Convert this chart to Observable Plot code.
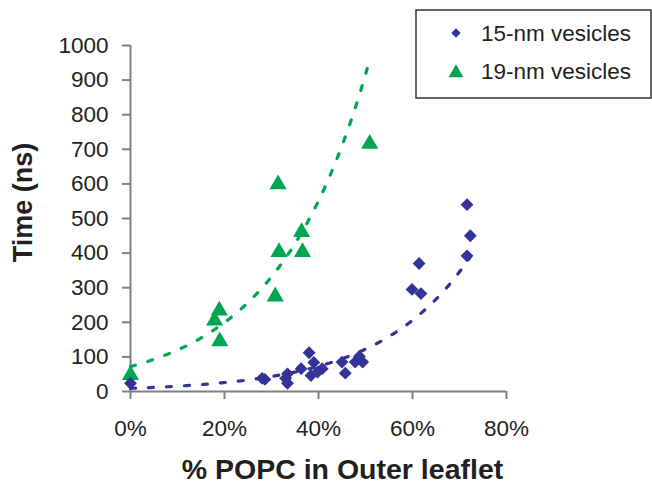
<!DOCTYPE html>
<html>
<head>
<meta charset="utf-8">
<script src="https://cdn.jsdelivr.net/npm/d3@7"></script>
<script src="https://cdn.jsdelivr.net/npm/@observablehq/plot@0.6"></script>
<style>
  html, body { margin: 0; padding: 0; background: #fff; }
  #chart { position: relative; width: 652px; height: 487px; }
</style>
</head>
<body>
<div id="chart"></div>
<script>
// ---- data ----
const seriesNames = ["15-nm vesicles", "19-nm vesicles"];

// 15-nm vesicles: % POPC in outer leaflet
const popc15 = [0, 28.0, 28.6, 33.4, 33.0, 33.4, 36.3, 38.0, 39.0, 38.4, 40.8, 39.8,
                45.0, 45.7, 47.8, 48.7, 49.4, 59.9, 61.4, 61.8, 71.6, 72.3, 71.6];
// 15-nm vesicles: time (ns)
const time15  = [24, 38, 35, 51, 38, 24, 66, 112, 84, 46, 66, 56,
                 85, 53, 85, 101, 85, 295, 370, 283, 540, 450, 392];

// 19-nm vesicles
const popc19 = [0, 17.9, 18.9, 19.0, 30.8, 31.4, 31.6, 36.4, 36.6, 50.9];
const time19 = [55, 212, 241, 152, 282, 606, 410, 468, 410, 723];

const xTicks = [0, 20, 40, 60, 80];
const yTicks = [0, 100, 200, 300, 400, 500, 600, 700, 800, 900, 1000];

const blue = "#333399";
const green = "#00a651";
const ink = "#231f20";
const axisGrey = "#808080";

// ---- build tables ----
const d15 = popc15.map((x, i) => ({x, y: time15[i]}));
const d19 = popc19.map((x, i) => ({x, y: time19[i]}));

// Exponential trendline (least squares on ln y), like a spreadsheet trendline
function expTrend(data, n = 120) {
  const xs = data.map(d => d.x), ls = data.map(d => Math.log(d.y));
  const mx = d3.mean(xs), ml = d3.mean(ls);
  let sxy = 0, sxx = 0;
  xs.forEach((x, i) => { sxy += (x - mx) * (ls[i] - ml); sxx += (x - mx) ** 2; });
  const b = sxy / sxx, a = Math.exp(ml - b * mx);
  const [x0, x1] = d3.extent(xs);
  return d3.range(n + 1).map(i => {
    const x = x0 + (x1 - x0) * i / n;
    return {x, y: a * Math.exp(b * x)};
  });
}
const t15 = expTrend(d15);
const t19 = expTrend(d19);

const chart = Plot.plot({
  width: 652,
  height: 487,
  marginLeft: 130,
  marginRight: 146,
  marginTop: 45,
  marginBottom: 96,
  style: {fontFamily: "'Liberation Sans', Arial, sans-serif", fontSize: "22.5px", color: ink, background: "#fff", overflow: "visible"},
  x: {domain: [0, 80]},
  y: {domain: [0, 1000]},
  marks: [
    Plot.axisY({ticks: yTicks, tickFormat: d => String(d), tickSize: 8, tickPadding: 14, label: null, stroke: axisGrey, strokeWidth: 2, fill: ink}),
    Plot.axisX({ticks: xTicks, tickFormat: d => d + "%", tickSize: 8, tickPadding: 21, label: null, stroke: axisGrey, strokeWidth: 2, fill: ink}),
    Plot.ruleX([0], {stroke: axisGrey, strokeWidth: 2}),
    Plot.ruleY([0], {stroke: axisGrey, strokeWidth: 2}),
    Plot.line(t19, {x: "x", y: "y", stroke: green, strokeWidth: 3.2, strokeDasharray: "5,13"}),
    Plot.line(t15, {x: "x", y: "y", stroke: blue, strokeWidth: 3.2, strokeDasharray: "5,13"}),
    Plot.dot(d19, {x: "x", y: "y", symbol: "triangle2", r: 8.2, fill: green, dy: 2.5}),
    Plot.dot(d15, {x: "x", y: "y", symbol: "diamond2", r: 5.8, fill: blue}),
    Plot.text(["Time (ns)"], {frameAnchor: "left", textAnchor: "middle", dx: -107, dy: -16, rotate: -90, fontSize: 27, fontWeight: "bold", fill: ink}),
    Plot.text(["% POPC in Outer leaflet"], {frameAnchor: "bottom", textAnchor: "middle", dx: 24, dy: 87, fontSize: 28.5, fontWeight: "bold", fill: ink})
  ]
});

document.getElementById("chart").appendChild(chart);

// ---- legend (drawn into the same SVG) ----
const svg = d3.select(chart);
const lg = svg.append("g").attr("font-family", "'Liberation Sans', Arial, sans-serif").attr("font-size", 22.5).attr("fill", ink).attr("text-anchor", "start");
lg.append("rect").attr("x", 416).attr("y", 10).attr("width", 235).attr("height", 88)
  .attr("fill", "#fff").attr("stroke", "#333").attr("stroke-width", 1.5);
const legendItems = [
  {name: seriesNames[0], color: blue, symbol: d3.symbolDiamond2, size: 55, y: 33},
  {name: seriesNames[1], color: green, symbol: d3.symbolTriangle2, size: 160, y: 71}
];
legendItems.forEach(it => {
  lg.append("path").attr("d", d3.symbol(it.symbol, it.size)()).attr("fill", it.color)
    .attr("transform", `translate(456,${it.y + (it.symbol === d3.symbolTriangle2 ? 2 : 0)})`);
  lg.append("text").attr("x", 481).attr("y", it.y + 8).attr("text-anchor", "start").text(it.name);
});
</script>
</body>
</html>
